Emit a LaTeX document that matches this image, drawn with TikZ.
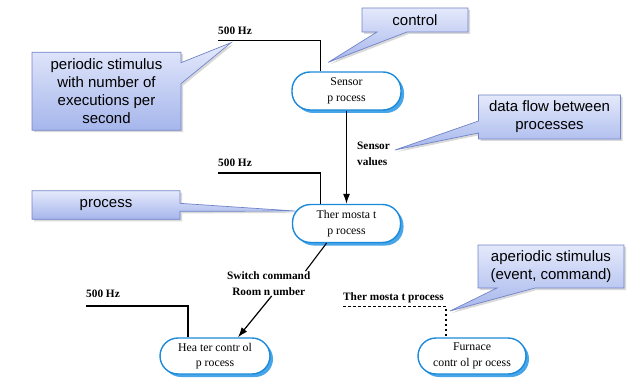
\documentclass[tikz,border=0pt]{standalone}
\usepackage{fontspec}
\setmainfont{Liberation Serif}
\newfontfamily\notefont{Liberation Sans}
\usetikzlibrary{shapes.callouts,shadows,arrows.meta}

\definecolor{procblue}{RGB}{28,138,218}
\definecolor{procshadow}{RGB}{72,165,232}
\definecolor{noteborder}{RGB}{112,132,200}
\definecolor{notetop}{RGB}{228,233,251}
\definecolor{notebottom}{RGB}{166,182,236}

\tikzset{
  procnode/.style={draw=procblue, line width=1.4pt, fill=white, rounded corners=18pt,
    inner sep=0pt, align=center, font=\fontsize{11.8}{15.5}\selectfont,
    general shadow={fill=procshadow, shadow xshift=3pt, shadow yshift=-3pt}},
  lbl/.style={font=\bfseries\fontsize{11.3}{16.5}\selectfont, inner sep=0pt, align=left},
  notebox/.style={rectangle callout, draw=noteborder, line width=0.7pt,
    top color=notetop, bottom color=notebottom, inner sep=0pt, align=center,
    font=\notefont\fontsize{15}{18}\selectfont,
    drop shadow={shadow xshift=2pt, shadow yshift=-2pt, opacity=0.3}},
  stim/.style={line width=1.1pt},
  trig/.style={line width=1.1pt, dash pattern=on 2.5pt off 2.5pt},
  flow/.style={line width=1.2pt, -{Latex[length=10pt,width=7pt]}},
}

\begin{document}
\begin{tikzpicture}[x=1pt, y=-1pt]
\useasboundingbox (0,0) rectangle (644,390);

% processes
\node[procnode, minimum width=109pt, minimum height=38pt] (sensor) at (346.5,91) {Sensor\\p rocess};
\node[procnode, minimum width=108pt, minimum height=38pt] (thermo) at (346.5,223.5) {Ther mosta t\\p rocess};
\node[procnode, minimum width=110pt, minimum height=36pt] (heater) at (215,356) {Hea ter contr ol\\p rocess};
\node[procnode, minimum width=108pt, minimum height=36pt] (furnace) at (472,356) {Furnace\\contr ol pr ocess};

% periodic stimuli
\node[lbl, anchor=base west] (hz1) at (218,34.5) {500 Hz};
\coordinate (st1) at (218,40.7);
\draw[stim] (st1) -| ([xshift=-26pt]sensor.north);
\node[lbl, anchor=base west] (hz2) at (218,167) {500 Hz};
\coordinate (st2) at (218,173);
\draw[stim] (st2) -| ([xshift=-26pt]thermo.north);
\node[lbl, anchor=base west] (hz3) at (86,297) {500 Hz};
\coordinate (st3) at (86,306);
\draw[stim] (st3) -| ([xshift=-27pt]heater.north);

% aperiodic stimulus
\node[lbl, anchor=base west] (tp) at (343,300) {Ther mosta t process};
\coordinate (st4) at (343,306.7);
\draw[trig] (st4) -| ([xshift=-26pt]furnace.north);

% data flows
\node[lbl, anchor=west] (sv) at (357,154) {Sensor\\values};
\draw[flow] (sensor) -- (thermo);
\node[lbl, align=center] (sw) at (268.7,283.5) {Switch command\\Room n umber};
\draw[stim] ([xshift=-20pt]thermo.south) -- ([xshift=-5pt]sw.north east);
\draw[flow] ([xshift=3pt]sw.south) -- ([xshift=23pt]heater.north);

% annotations
\coordinate (pt1) at (231,42.7);
\coordinate (pt2) at (328.3,62.3);
\coordinate (pt3) at (395,150);
\coordinate (pt4) at (295,211);
\coordinate (pt5) at (450,311);
\node[notebox, minimum width=149pt, minimum height=78pt, callout absolute pointer={(pt1)},
  callout pointer width=21pt] (periodic) at (106.5,91.2)
  {periodic stimulus\\with number of\\executions per\\second};
\node[notebox, minimum width=106pt, minimum height=24pt, callout absolute pointer={(pt2)},
  callout pointer width=30pt] (control) at (415,20) {control};
\node[notebox, minimum width=142pt, minimum height=44pt, callout absolute pointer={(pt3)},
  callout pointer width=12pt] (dataflow) at (549.5,117) {data flow between\\processes};
\node[notebox, minimum width=148pt, minimum height=28.5pt, callout absolute pointer={(pt4)},
  callout pointer width=8pt] (process) at (106,205) {process};
\node[notebox, minimum width=146pt, minimum height=43pt, callout absolute pointer={(pt5)},
  callout pointer width=38pt] (aperiodic) at (551,266.5) {aperiodic stimulus\\(event, command)};
\end{tikzpicture}
\end{document}
